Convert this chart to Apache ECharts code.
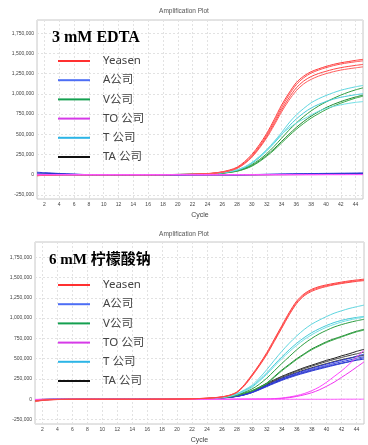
<!DOCTYPE html>
<html><head><meta charset="utf-8">
<script src="https://cdn.jsdelivr.net/npm/echarts@6/dist/echarts.min.js"></script>
<style>html,body{margin:0;padding:0;background:#fff}#c{width:368px;height:445px}</style>
</head><body><div id="c"></div>
<script>
// ---- data (ΔRn values in thousands) ----
const cycles = [1,2,3,4,5,6,7,8,9,10,11,12,13,14,15,16,17,18,19,20,21,22,23,24,25,26,27,28,29,30,31,32,33,34,35,36,37,38,39,40,41,42,43,44,45];
const companies = ['Yeasen','A公司','V公司','TO 公司','T 公司','TA 公司'];
const yTicks = [-250000,0,250000,500000,750000,1000000,1250000,1500000,1750000];
const xTicks = [2,4,6,8,10,12,14,16,18,20,22,24,26,28,30,32,34,36,38,40,42,44];

// Panel 1: 3 mM EDTA
const edtaYeasen = [
 [-12,-6,-3,-1,0,0,0,0,0,0,0,0,0,0,0,0,1,1,2,3,4,6,9,14,22,36,58,92,160,250,370,510,680,860,1010,1140,1220,1275,1310,1340,1365,1385,1400,1415,1428],
 [-10,-5,-2,-1,0,0,0,0,0,0,0,0,0,0,0,0,1,1,2,3,4,5,8,13,20,33,53,85,148,235,350,490,655,830,985,1115,1200,1258,1295,1325,1350,1370,1385,1398,1410],
 [-8,-4,-2,0,0,0,0,0,0,0,0,0,0,0,0,0,0,1,1,2,3,5,8,12,19,31,50,80,140,222,335,470,630,800,950,1075,1160,1215,1252,1280,1305,1325,1340,1353,1365],
 [-14,-7,-3,-1,0,0,0,0,0,0,0,0,0,0,0,0,0,1,1,2,3,5,7,11,18,30,48,77,134,215,325,455,610,775,920,1040,1125,1180,1220,1250,1275,1295,1310,1323,1335]
];
const edtaA = [
 [30,25,20,15,10,6,3,1,0,0,-2,-3,-3,-2,-1,0,0,-1,-2,-2,-1,0,0,1,1,0,-1,-1,0,1,2,4,6,8,10,12,13,14,15,16,17,18,19,20,22],
 [22,18,15,12,8,5,3,1,0,0,-1,-2,-2,-1,0,0,0,0,-1,-1,0,0,0,0,0,0,0,0,1,2,3,4,5,6,7,8,9,10,10,11,12,13,14,15,16],
 [15,12,10,8,6,4,2,1,0,0,0,-1,-1,-1,0,0,0,0,0,0,0,0,0,0,0,0,0,0,0,1,1,2,2,3,3,4,4,5,5,6,6,7,7,8,8]
];
const edtaV = [
 [3,2,1,0,0,0,0,0,0,0,0,0,0,0,0,0,0,1,1,2,3,5,7,10,14,21,33,50,80,125,185,260,350,450,550,640,720,790,850,900,945,985,1020,1050,1075],
 [2,1,1,0,0,0,0,0,0,0,0,0,0,0,0,0,0,1,1,2,3,4,6,9,13,19,30,45,72,112,170,240,320,410,500,585,660,725,780,830,870,905,935,962,985],
 [2,1,0,0,0,0,0,0,0,0,0,0,0,0,0,0,0,1,1,2,3,4,6,8,12,18,28,42,68,105,160,228,305,392,480,562,635,700,755,805,848,885,918,948,972]
];
const edtaTO = [
 [5,3,2,1,0,0,0,0,0,0,0,0,0,0,0,0,0,0,0,0,0,0,0,0,0,0,0,0,0,0,0,0,0,1,1,1,1,1,2,2,2,2,2,2,2],
 [2,1,1,0,0,0,0,0,0,0,0,0,0,0,0,0,0,0,0,0,0,0,0,0,0,0,0,0,0,0,0,0,0,0,0,1,1,1,1,1,1,1,1,1,1],
 [-3,-2,-1,0,0,0,0,0,0,0,0,0,0,0,0,0,0,0,0,0,0,0,0,0,0,0,0,0,0,0,0,0,0,0,0,0,0,0,0,1,1,1,2,2,3]
];
const edtaT = [
 [5,3,2,1,0,0,0,0,0,0,0,0,0,0,0,0,1,1,2,3,4,6,8,12,17,26,40,60,95,150,225,310,410,520,640,740,820,890,940,980,1015,1045,1068,1088,1105],
 [4,3,2,1,0,0,0,0,0,0,0,0,0,0,0,0,1,1,2,3,4,5,7,10,15,23,36,55,88,140,210,295,390,495,600,690,765,825,870,905,935,958,975,990,1002],
 [6,4,2,1,0,0,0,0,0,0,0,0,0,0,0,0,1,1,2,3,4,6,8,12,17,26,40,60,95,148,220,300,400,500,575,640,690,740,785,820,845,865,882,895,905]
];
const edtaTA = [
 [10,8,6,4,2,1,0,0,0,0,-1,-1,-1,0,0,0,0,0,0,0,0,0,0,0,0,0,0,0,0,0,1,1,2,2,3,3,4,4,5,5,6,6,7,7,8],
 [6,5,4,3,2,1,0,0,0,0,0,-1,-1,0,0,0,0,0,0,0,0,0,0,0,0,0,0,0,0,0,0,1,1,1,2,2,2,3,3,3,4,4,4,5,5],
 [8,6,5,3,2,1,0,0,0,0,0,0,0,0,0,0,0,0,0,0,0,0,0,0,0,0,0,0,0,0,0,0,1,1,1,1,2,2,2,2,3,3,3,3,4]
];

// Panel 2: 6 mM 柠檬酸钠
const citYeasen = [
 [-30,-15,-8,-4,-2,-1,0,0,0,0,0,0,0,0,0,0,1,1,2,3,4,6,9,14,20,30,50,90,180,300,430,575,740,905,1070,1210,1300,1355,1388,1410,1428,1444,1458,1470,1480],
 [-24,-12,-6,-3,-1,0,0,0,0,0,0,0,0,0,0,0,1,1,2,3,4,6,9,13,19,29,48,86,172,290,420,562,725,890,1055,1195,1288,1343,1377,1400,1418,1434,1448,1460,1470],
 [-18,-9,-5,-2,-1,0,0,0,0,0,0,0,0,0,0,0,0,1,1,2,3,5,8,12,18,28,46,83,166,282,410,550,712,876,1040,1180,1275,1330,1365,1390,1410,1426,1440,1452,1462]
];
const citA = [
 [-12,-8,-4,-2,-1,0,0,0,0,0,0,0,0,0,0,0,0,1,1,2,2,3,5,8,11,17,25,38,58,88,128,172,215,255,290,322,352,380,407,432,457,480,502,530,555],
 [-8,-5,-3,-1,0,0,0,0,0,0,0,0,0,0,0,0,0,1,1,1,2,3,5,8,11,16,24,37,56,85,124,166,208,246,280,312,340,367,392,416,440,462,482,505,525],
 [-6,-4,-2,-1,0,0,0,0,0,0,0,0,0,0,0,0,0,0,1,1,2,3,5,7,10,16,24,36,55,83,120,162,202,240,273,303,330,356,380,403,425,445,463,480,495],
 [-10,-6,-3,-1,0,0,0,0,0,0,0,0,0,0,0,0,0,1,1,1,2,3,5,7,10,15,23,35,53,80,116,156,195,232,265,295,322,348,372,395,418,440,462,487,512]
];
const citV = [
 [-8,-4,-2,-1,0,0,0,0,0,0,0,0,0,0,0,0,0,1,1,2,3,4,6,9,13,20,33,55,88,125,185,260,350,440,525,610,685,750,805,850,890,920,945,967,985],
 [-6,-3,-1,0,0,0,0,0,0,0,0,0,0,0,0,0,0,1,1,2,2,4,6,8,12,18,30,50,78,105,150,200,280,360,430,500,560,620,665,710,745,775,808,838,862],
 [-5,-2,-1,0,0,0,0,0,0,0,0,0,0,0,0,0,0,0,1,1,2,4,5,8,11,17,28,47,74,100,143,192,270,350,420,490,552,610,656,700,735,768,800,830,852]
];
const citTO = [
 [-4,-2,-1,0,0,0,0,0,0,0,0,0,0,0,0,0,0,0,0,0,0,0,0,0,0,0,0,1,1,2,3,3,8,15,28,45,70,105,150,210,280,350,430,520,605],
 [-3,-2,-1,0,0,0,0,0,0,0,0,0,0,0,0,0,0,0,0,0,0,0,0,0,0,0,0,0,1,1,2,3,5,10,20,35,55,80,115,160,210,270,330,395,460],
 [-2,-1,0,0,0,0,0,0,0,0,0,0,0,0,0,0,0,0,0,0,0,0,0,0,0,0,0,0,0,0,0,0,0,0,0,0,0,0,0,0,0,1,1,1,1]
];
const citT = [
 [-5,-3,-1,0,0,0,0,0,0,0,0,0,0,0,0,0,0,1,1,2,3,5,7,10,15,24,40,70,115,170,260,365,480,590,690,780,860,925,975,1020,1060,1090,1118,1140,1160],
 [-4,-2,-1,0,0,0,0,0,0,0,0,0,0,0,0,0,0,1,1,2,3,5,7,10,14,22,37,64,105,155,235,325,425,520,610,690,760,820,868,910,945,972,993,1008,1020],
 [-6,-3,-1,0,0,0,0,0,0,0,0,0,0,0,0,0,0,1,1,2,3,4,6,9,13,21,35,60,98,145,222,308,405,500,585,665,735,795,845,888,922,952,975,995,1012]
];
const citTA = [
 [-10,-6,-3,-1,0,0,0,0,0,0,0,0,0,0,0,0,0,1,1,2,2,4,6,9,13,19,28,42,65,100,145,195,240,282,320,355,390,420,450,480,505,535,560,590,615],
 [-7,-4,-2,-1,0,0,0,0,0,0,0,0,0,0,0,0,0,1,1,2,2,4,6,9,12,18,27,40,62,95,138,185,230,272,310,345,378,408,437,465,490,515,538,560,580],
 [-5,-3,-1,0,0,0,0,0,0,0,0,0,0,0,0,0,0,0,1,1,2,3,5,8,12,17,26,38,58,90,132,177,220,260,297,330,360,388,415,440,465,488,507,525,542]
];

// ---- styles ----
const legendColors = ['#ff3030','#4d6ef5','#14a050','#d63ae8','#2cb5e6','#111111'];
const lineColors = {
  'Yeasen': ['#ff3a3a','#ff5252','#ff4646','#ff5e5e'],
  'A公司': ['#2b36d6','#3a45e0','#1f2cc4','#3440d8'],
  'V公司': ['#2e9d40','#1f8a30','#3aa84a'],
  'TO 公司': ['#ff44ff','#f030f0','#ff5cff'],
  'T 公司': ['#5fd6e0','#45cad8','#70e0e6'],
  'TA 公司': ['#222222','#444444','#333333']
};
const panels = [
  {grid:{left:37, top:20, width:326, height:179}, min:-301000, max:1915000,
   order:[['TA 公司',edtaTA],['A公司',edtaA],['V公司',edtaV],['T 公司',edtaT],['Yeasen',edtaYeasen],['TO 公司',edtaTO]]},
  {grid:{left:35, top:242, width:329, height:182}, min:-305000, max:1938000,
   order:[['TA 公司',citTA],['A公司',citA],['V公司',citV],['T 公司',citT],['TO 公司',citTO],['Yeasen',citYeasen]]}
];

const fmtY = v => yTicks.includes(v) ? v.toLocaleString('en-US') : '';
const fmtX = v => xTicks.includes(v) ? String(v) : '';
const grids = [], xAxes = [], yAxes = [], series = [];
panels.forEach((p, pi) => {
  grids.push(Object.assign({show:true, borderColor:'#c8c8c8', borderWidth:1, backgroundColor:'#fff',
    containLabel:false, outerBoundsMode:'none'}, p.grid));
  xAxes.push({type:'value', gridIndex:pi, min:1, max:45, minInterval:2, maxInterval:2,
    name:'Cycle', nameLocation:'middle', nameGap:13, nameTextStyle:{fontSize:7, color:'#444'},
    axisLine:{show:false}, axisTick:{show:false},
    axisLabel:{formatter:fmtX, fontSize:5, color:'#444', margin:3, showMinLabel:false, showMaxLabel:false},
    splitLine:{show:true, lineStyle:{color:'#e2e2e2', type:[2,2], width:1}}});
  yAxes.push({type:'value', gridIndex:pi, min:p.min, max:p.max, minInterval:250000, maxInterval:250000,
    name:'ΔRn', nameLocation:'middle', nameGap:31, nameRotate:90, nameTextStyle:{fontSize:6, color:'#444'},
    axisLine:{show:false}, axisTick:{show:false},
    axisLabel:{formatter:fmtY, fontSize:5, color:'#444', margin:3, showMinLabel:false, showMaxLabel:false},
    splitLine:{show:true, lineStyle:{color:'#e2e2e2', type:[2,2], width:1}}});
  p.order.forEach(([name, reps]) => {
    reps.forEach((vals, ri) => {
      series.push({type:'line', name, xAxisIndex:pi, yAxisIndex:pi, showSymbol:false, smooth:0.3,
        silent:true, lineStyle:{width:1, color:lineColors[name][ri % lineColors[name].length]},
        itemStyle:{color:lineColors[name][0]},
        data: cycles.map((c, i) => [c, vals[i] * 1000])});
    });
  });
});

const legendData = companies.map((n, i) => ({name:n, itemStyle:{color:legendColors[i]}}));
const mkLegend = top => ({orient:'vertical', left:58, top, padding:0, itemWidth:32, itemHeight:2, itemGap:5.2,
  icon:'rect', selectedMode:false, data:legendData,
  textStyle:{fontSize:11.5, color:'#444', fontFamily:'"Noto Sans","Noto Sans CJK SC",sans-serif', padding:[0,0,0,8], lineHeight:14}});

const chart = echarts.init(document.getElementById('c'), null, {renderer:'canvas'});
chart.setOption({
  backgroundColor:'#fff',
  animation:false,
  title:[
    {text:'Amplification Plot', left:184, top:8, padding:0, textAlign:'center', textStyle:{fontSize:6.5, fontWeight:'normal', color:'#555', fontFamily:'Liberation Sans'}},
    {text:'Amplification Plot', left:184, top:231, padding:0, textAlign:'center', textStyle:{fontSize:6.5, fontWeight:'normal', color:'#555', fontFamily:'Liberation Sans'}},
    {text:'3 mM EDTA', left:52, top:30, padding:0, textStyle:{fontSize:16, fontWeight:'bold', color:'#000', fontFamily:'"Liberation Serif","Noto Sans CJK SC",serif'}},
    {text:'6 mM 柠檬酸钠', left:49, top:253, padding:0, textStyle:{fontSize:15, fontWeight:'bold', color:'#000', fontFamily:'"Liberation Serif","Noto Sans CJK SC",serif'}}
  ],
  legend:[mkLegend(54), mkLegend(278)],
  grid:grids, xAxis:xAxes, yAxis:yAxes, series
});
</script>
</body></html>
